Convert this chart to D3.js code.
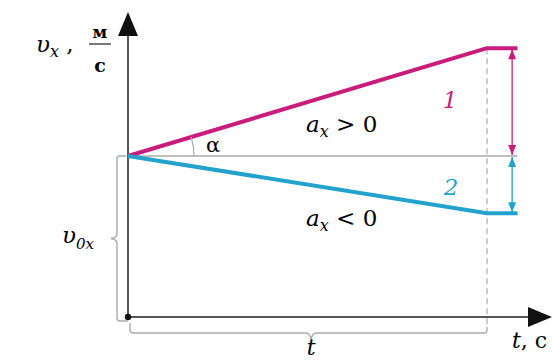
<!DOCTYPE html>
<html>
<head>
<meta charset="utf-8">
<script src="https://cdn.jsdelivr.net/npm/d3@7"></script>
<style>
  body { margin: 0; background: #fff; }
</style>
</head>
<body>
<div id="chart"></div>
<script>
// chart values (time in units of t, speed in units of v0)
const times = [0, 1, 1.085];
const speed1 = [1, 1.67, 1.67];   // a_x > 0
const speed2 = [1, 0.645, 0.645]; // a_x < 0
const v0 = 1;
const tEnd = 1;
const seriesNames = ["1", "2"];

const width = 552, height = 360;
const colors = { up: "#c91c7d", down: "#22a2cc", axis: "#555", guide: "#aaa" };
const serif = "'DejaVu Serif', 'Liberation Serif', serif";

const svg = d3.select("#chart").append("svg")
    .attr("width", width)
    .attr("height", height)
    .attr("font-family", serif)
    .style("font-family", serif);

// scales
const x = d3.scaleLinear().domain([0, 1]).range([128, 487]);
const y = d3.scaleLinear().domain([0, 1]).range([317, 156]);

const line = d3.line()
    .x((d, i) => x(times[i]))
    .y(d => y(d));

// horizontal line at v0
svg.append("line")
    .attr("x1", x(0)).attr("x2", x(times[2]))
    .attr("y1", y(v0)).attr("y2", y(v0))
    .attr("stroke", colors.guide).attr("stroke-width", 1.5);

// dashed vertical at t
svg.append("line")
    .attr("x1", x(tEnd)).attr("x2", x(tEnd))
    .attr("y1", y(speed1[1])).attr("y2", 328)
    .attr("stroke", colors.guide).attr("stroke-width", 1.2)
    .attr("stroke-dasharray", "6,4");

// axes
svg.append("line")
    .attr("x1", x(0)).attr("x2", x(0))
    .attr("y1", y(0)).attr("y2", 30)
    .attr("stroke", colors.axis).attr("stroke-width", 2);
svg.append("line")
    .attr("x1", x(0)).attr("x2", 532)
    .attr("y1", y(0)).attr("y2", y(0))
    .attr("stroke", colors.axis).attr("stroke-width", 2);
svg.append("path")
    .attr("d", `M${x(0)},12 L${x(0) - 10},36 L${x(0) + 10},36 Z`)
    .attr("fill", "#111");
svg.append("path")
    .attr("d", `M552,${y(0)} L528,${y(0) - 10} L528,${y(0) + 10} Z`)
    .attr("fill", "#111");
svg.append("circle")
    .attr("cx", x(0)).attr("cy", y(0)).attr("r", 3.2)
    .attr("fill", "#111");

// speed lines
svg.append("path")
    .datum(speed1)
    .attr("d", line)
    .attr("fill", "none")
    .attr("stroke", colors.up).attr("stroke-width", 4)
    .attr("stroke-linejoin", "round");
svg.append("path")
    .datum(speed2)
    .attr("d", line)
    .attr("fill", "none")
    .attr("stroke", colors.down).attr("stroke-width", 4)
    .attr("stroke-linejoin", "round");

// angle arc
const ang = Math.atan2(y(v0) - y(speed1[1]), x(tEnd) - x(0));
const r = 66;
svg.append("path")
    .attr("d", `M${x(0) + r},${y(v0)} A${r},${r} 0 0 0 ${x(0) + r * Math.cos(ang)},${y(v0) - r * Math.sin(ang)}`)
    .attr("fill", "none").attr("stroke", colors.guide).attr("stroke-width", 1.2);
svg.append("text")
    .attr("x", 206).attr("y", 152)
    .attr("font-size", 21)
    .text("α");

// double arrows of the change in speed
function doubleArrow(xp, ya, yb, color) {
  svg.append("line")
      .attr("x1", xp).attr("x2", xp)
      .attr("y1", ya).attr("y2", yb)
      .attr("stroke", color).attr("stroke-width", 1.3);
  const dir = yb > ya ? 1 : -1;
  [[ya, dir], [yb, -dir]].forEach(([yy, d]) => {
    svg.append("path")
        .attr("d", `M${xp - 4},${yy + d * 10} L${xp},${yy} L${xp + 4},${yy + d * 10} Z`)
        .attr("fill", color);
  });
}
const xArrow = x(1.07);
doubleArrow(xArrow, y(speed1[1]) + 1, y(v0) - 1, colors.up);
doubleArrow(xArrow, y(v0) + 1, y(speed2[1]) - 1, colors.down);

// series numbers
svg.append("text")
    .attr("x", 450).attr("y", 108)
    .attr("text-anchor", "middle")
    .attr("font-size", 23).attr("font-style", "italic")
    .attr("fill", colors.up)
    .text(seriesNames[0]);
svg.append("text")
    .attr("x", 451).attr("y", 195)
    .attr("text-anchor", "middle")
    .attr("font-size", 23).attr("font-style", "italic")
    .attr("fill", colors.down)
    .text(seriesNames[1]);

// acceleration labels
function accLabel(yy, sign) {
  const t = svg.append("text").attr("x", 306).attr("y", yy).attr("font-size", 23);
  t.append("tspan").attr("font-style", "italic").text("a");
  t.append("tspan").attr("font-style", "italic").attr("font-size", 16).attr("dy", 5).text("x");
  t.append("tspan").attr("dy", -5).text(" " + sign + " 0");
}
accLabel(132, ">");
accLabel(226, "<");

// braces
const braceStyle = s => s.attr("fill", "none").attr("stroke", colors.guide).attr("stroke-width", 1.4);
// left: v0x
const bx = 117, yTop = y(v0), yBot = y(0) + 4, yMid = (yTop + yBot) / 2;
braceStyle(svg.append("path")
    .attr("d", `M${x(0) - 2},${yTop} L${bx + 3},${yTop} Q${bx},${yTop} ${bx},${yTop + 3}
      L${bx},${yMid - 5} Q${bx},${yMid - 1} ${bx - 6},${yMid}
      Q${bx},${yMid + 1} ${bx},${yMid + 5}
      L${bx},${yBot - 3} Q${bx},${yBot} ${bx + 3},${yBot} L${x(0)},${yBot}`));
const v0t = svg.append("text").attr("x", 62).attr("y", yMid + 4).attr("font-size", 23).attr("font-style", "italic");
v0t.append("tspan").text("υ");
v0t.append("tspan").attr("font-size", 15).attr("dy", 6).text("0x");

// bottom: t
const by = 333, xL = x(0) + 2, xR = x(tEnd), xMid = x(0.51);
braceStyle(svg.append("path")
    .attr("d", `M${xL},${y(0) + 6} L${xL},${by - 3} Q${xL},${by} ${xL + 3},${by}
      L${xMid - 5},${by} Q${xMid - 1},${by} ${xMid},${by + 7}
      Q${xMid + 1},${by} ${xMid + 5},${by}
      L${xR - 3},${by} Q${xR},${by} ${xR},${by - 3} L${xR},${by - 6}`));
svg.append("text")
    .attr("x", xMid).attr("y", 355)
    .attr("text-anchor", "middle")
    .attr("font-size", 22).attr("font-style", "italic")
    .text("t");

// axis titles
const tl = svg.append("text").attr("x", 512).attr("y", 348).attr("font-size", 22);
tl.append("tspan").attr("font-style", "italic").text("t");
tl.append("tspan").text(", с");

const yl = svg.append("text").attr("x", 36).attr("y", 52).attr("font-size", 23);
yl.append("tspan").attr("font-style", "italic").text("υ");
yl.append("tspan").attr("font-style", "italic").attr("font-size", 16).attr("dy", 5).text("x");
yl.append("tspan").attr("dy", -5).text(" ,");
svg.append("text")
    .attr("x", 100).attr("y", 38)
    .attr("text-anchor", "middle").attr("font-size", 17).attr("font-weight", "bold")
    .text("м");
svg.append("line")
    .attr("x1", 89).attr("x2", 111).attr("y1", 44).attr("y2", 44)
    .attr("stroke", "#333").attr("stroke-width", 1.3);
svg.append("text")
    .attr("x", 100).attr("y", 72)
    .attr("text-anchor", "middle").attr("font-size", 19).attr("font-weight", "bold")
    .text("с");
</script>
</body>
</html>
